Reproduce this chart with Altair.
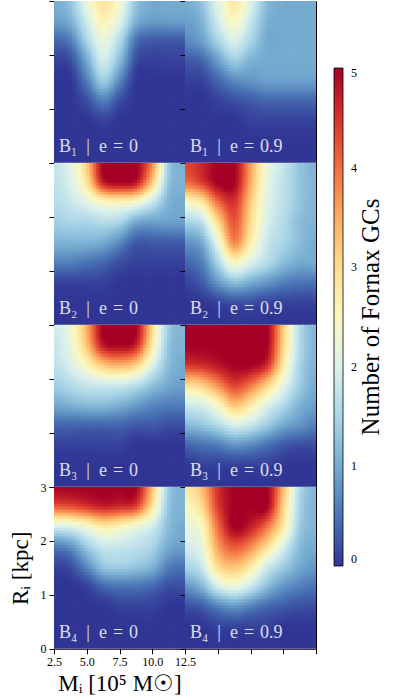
import altair as alt
import numpy as np
import pandas as pd

# Sampled grid: initial mass M_i (10^5 Msun) across, initial radius R_i (kpc) down (top row = 3 kpc)
mass_grid = [2.5, 3.75, 5.0, 6.25, 7.5, 8.75, 10.0, 11.25, 12.5]
radius_grid = [3.0, 2.625, 2.25, 1.875, 1.5, 1.125, 0.75, 0.375, 0.0]

# Number of Fornax GCs surviving, per potential model and orbital eccentricity
n_b1_e0 = [
    [1.0, 1.3, 2.2, 2.9, 2.4, 1.3, 1.0, 1.0, 1.0],
    [0.9, 1.1, 1.9, 2.6, 2.1, 1.1, 0.9, 0.9, 0.9],
    [0.4, 0.6, 1.5, 2.2, 1.6, 0.5, 0.3, 0.3, 0.3],
    [0.1, 0.2, 1.0, 1.9, 1.2, 0.2, 0.1, 0.1, 0.1],
    [0.0, 0.0, 0.6, 1.4, 0.7, 0.0, 0.0, 0.0, 0.0],
    [0.0, 0.0, 0.2, 0.6, 0.2, 0.0, 0.0, 0.0, 0.0],
    [0.0, 0.0, 0.0, 0.1, 0.0, 0.0, 0.0, 0.0, 0.0],
    [0.0, 0.0, 0.0, 0.0, 0.0, 0.0, 0.0, 0.0, 0.0],
    [0.0, 0.0, 0.0, 0.0, 0.0, 0.0, 0.0, 0.0, 0.0],
]
n_b1_e09 = [
    [1.0, 1.3, 2.1, 2.8, 2.1, 1.2, 1.0, 1.0, 1.0],
    [0.9, 1.1, 1.9, 2.5, 1.8, 1.1, 1.0, 1.0, 1.0],
    [0.7, 0.9, 1.5, 2.0, 1.5, 1.0, 1.0, 1.0, 1.0],
    [0.3, 0.4, 0.9, 1.4, 1.1, 1.0, 1.0, 1.0, 1.0],
    [0.1, 0.1, 0.4, 0.7, 0.8, 0.9, 0.9, 0.9, 0.9],
    [0.0, 0.0, 0.1, 0.2, 0.3, 0.4, 0.4, 0.4, 0.4],
    [0.0, 0.0, 0.0, 0.0, 0.1, 0.1, 0.1, 0.1, 0.1],
    [0.0, 0.0, 0.0, 0.0, 0.0, 0.0, 0.0, 0.0, 0.0],
    [0.0, 0.0, 0.0, 0.0, 0.0, 0.0, 0.0, 0.0, 0.0],
]
n_b2_e0 = [
    [1.8, 2.1, 3.2, 5.0, 5.0, 5.0, 3.8, 1.4, 1.1],
    [1.7, 2.0, 2.9, 4.7, 5.0, 4.8, 3.2, 1.3, 1.1],
    [1.6, 1.8, 2.1, 2.5, 2.6, 2.4, 1.8, 1.1, 1.0],
    [1.4, 1.5, 1.5, 1.6, 1.5, 1.0, 0.9, 0.9, 0.9],
    [1.1, 1.1, 1.1, 1.0, 0.7, 0.3, 0.3, 0.3, 0.3],
    [0.6, 0.6, 0.5, 0.4, 0.2, 0.1, 0.1, 0.1, 0.1],
    [0.1, 0.1, 0.1, 0.1, 0.0, 0.0, 0.0, 0.0, 0.0],
    [0.0, 0.0, 0.0, 0.0, 0.0, 0.0, 0.0, 0.0, 0.0],
    [0.0, 0.0, 0.0, 0.0, 0.0, 0.0, 0.0, 0.0, 0.0],
]
n_b2_e09 = [
    [4.3, 4.6, 5.0, 5.0, 3.6, 2.3, 1.8, 1.3, 1.1],
    [4.0, 4.4, 5.0, 5.0, 3.5, 2.2, 1.7, 1.3, 1.1],
    [2.5, 2.8, 4.0, 4.5, 3.2, 2.1, 1.7, 1.3, 1.1],
    [1.5, 1.7, 3.0, 4.2, 3.0, 2.0, 1.6, 1.2, 1.1],
    [0.8, 1.0, 2.2, 3.8, 2.7, 1.8, 1.5, 1.2, 1.0],
    [0.4, 0.6, 1.5, 2.5, 2.0, 1.6, 1.2, 1.0, 1.0],
    [0.1, 0.3, 0.8, 1.2, 1.0, 0.8, 0.6, 0.5, 0.5],
    [0.0, 0.0, 0.1, 0.2, 0.2, 0.1, 0.1, 0.1, 0.1],
    [0.0, 0.0, 0.0, 0.0, 0.0, 0.0, 0.0, 0.0, 0.0],
]
n_b3_e0 = [
    [1.9, 2.3, 3.5, 5.0, 5.0, 5.0, 3.0, 1.4, 1.1],
    [1.8, 2.2, 3.3, 4.8, 5.0, 4.7, 2.8, 1.3, 1.1],
    [1.7, 2.0, 2.6, 3.3, 3.5, 3.2, 2.1, 1.2, 1.0],
    [1.4, 1.6, 1.8, 1.9, 1.9, 1.7, 1.3, 1.0, 0.9],
    [1.0, 1.1, 1.2, 1.2, 1.1, 0.9, 0.7, 0.6, 0.6],
    [0.4, 0.4, 0.4, 0.4, 0.4, 0.3, 0.3, 0.2, 0.2],
    [0.1, 0.1, 0.1, 0.1, 0.1, 0.0, 0.0, 0.0, 0.0],
    [0.0, 0.0, 0.0, 0.0, 0.0, 0.0, 0.0, 0.0, 0.0],
    [0.0, 0.0, 0.0, 0.0, 0.0, 0.0, 0.0, 0.0, 0.0],
]
n_b3_e09 = [
    [5.0, 5.0, 5.0, 5.0, 5.0, 5.0, 3.2, 1.6, 1.1],
    [5.0, 5.0, 5.0, 5.0, 5.0, 5.0, 3.1, 1.6, 1.1],
    [4.5, 4.6, 4.8, 5.0, 5.0, 4.6, 2.8, 1.5, 1.1],
    [3.0, 3.2, 3.8, 4.4, 4.0, 3.2, 2.2, 1.4, 1.0],
    [1.9, 2.0, 2.5, 3.3, 2.8, 2.1, 1.6, 1.1, 0.9],
    [1.2, 1.3, 1.6, 2.0, 1.8, 1.4, 1.0, 0.8, 0.6],
    [0.4, 0.5, 0.6, 0.8, 0.7, 0.5, 0.3, 0.2, 0.2],
    [0.0, 0.1, 0.1, 0.1, 0.1, 0.1, 0.0, 0.0, 0.0],
    [0.0, 0.0, 0.0, 0.0, 0.0, 0.0, 0.0, 0.0, 0.0],
]
n_b4_e0 = [
    [5.0, 5.0, 5.0, 5.0, 5.0, 5.0, 3.3, 1.4, 1.1],
    [4.2, 4.3, 4.5, 4.7, 4.6, 4.4, 2.9, 1.3, 1.1],
    [2.0, 2.1, 2.4, 2.8, 2.6, 2.3, 1.9, 1.2, 1.0],
    [0.6, 0.8, 1.4, 1.8, 1.8, 1.7, 1.5, 1.0, 0.9],
    [0.1, 0.2, 0.7, 1.3, 1.4, 1.3, 1.1, 0.6, 0.5],
    [0.0, 0.0, 0.1, 0.4, 0.5, 0.5, 0.4, 0.2, 0.2],
    [0.0, 0.0, 0.0, 0.0, 0.1, 0.1, 0.1, 0.0, 0.0],
    [0.0, 0.0, 0.0, 0.0, 0.0, 0.0, 0.0, 0.0, 0.0],
    [0.0, 0.0, 0.0, 0.0, 0.0, 0.0, 0.0, 0.0, 0.0],
]
n_b4_e09 = [
    [2.8, 3.3, 4.5, 5.0, 5.0, 5.0, 3.4, 1.6, 1.1],
    [2.5, 3.0, 4.4, 5.0, 5.0, 5.0, 3.1, 1.5, 1.1],
    [2.2, 2.5, 4.0, 5.0, 4.7, 4.0, 2.8, 1.4, 1.1],
    [1.9, 2.2, 3.6, 4.2, 3.8, 3.0, 2.0, 1.2, 1.0],
    [1.5, 1.8, 3.0, 3.3, 2.8, 1.9, 1.4, 1.0, 0.8],
    [0.8, 1.1, 1.9, 2.2, 1.8, 1.2, 0.8, 0.6, 0.5],
    [0.2, 0.3, 0.6, 0.8, 0.6, 0.4, 0.3, 0.2, 0.2],
    [0.0, 0.0, 0.1, 0.1, 0.1, 0.1, 0.0, 0.0, 0.0],
    [0.0, 0.0, 0.0, 0.0, 0.0, 0.0, 0.0, 0.0, 0.0],
]

# en spaces around the bar, three-per-em spaces around the equals sign
panel_labels = [
    ["B\u2081\u2002|\u2002e\u2004=\u20040", "B\u2081\u2002|\u2002e\u2004=\u20040.9"],
    ["B\u2082\u2002|\u2002e\u2004=\u20040", "B\u2082\u2002|\u2002e\u2004=\u20040.9"],
    ["B\u2083\u2002|\u2002e\u2004=\u20040", "B\u2083\u2002|\u2002e\u2004=\u20040.9"],
    ["B\u2084\u2002|\u2002e\u2004=\u20040", "B\u2084\u2002|\u2002e\u2004=\u20040.9"],
]
panel_grids = [
    [n_b1_e0, n_b1_e09],
    [n_b2_e0, n_b2_e09],
    [n_b3_e0, n_b3_e09],
    [n_b4_e0, n_b4_e09],
]
mass_ticks = [2.5, 5.0, 7.5, 10.0, 12.5]
radius_ticks = [0, 1, 2, 3]
count_ticks = [0, 1, 2, 3, 4, 5]

FONT = "Liberation Serif"
PANEL_W, PANEL_H = 131, 161.75
NX, NY = 44, 54  # display cells per panel


def cubic_kernel(d, a=-0.5):
    d = np.abs(d)
    near = (a + 2) * d**3 - (a + 3) * d**2 + 1
    far = a * d**3 - 5 * a * d**2 + 8 * a * d - 4 * a
    return np.where(d <= 1, near, np.where(d < 2, far, 0.0))


def resample_matrix(n_src, n_dst):
    # bicubic display resampling (like imshow's interpolation="bicubic")
    pos = (np.arange(n_dst) + 0.5) / n_dst * (n_src - 1)
    base = np.floor(pos).astype(int)
    m = np.zeros((n_dst, n_src))
    for k in range(-1, 3):
        idx = base + k
        w = cubic_kernel(pos - idx)
        idx = np.clip(idx, 0, n_src - 1)
        np.add.at(m, (np.arange(n_dst), idx), w)
    return m


RY = resample_matrix(len(radius_grid), NY)
RX = resample_matrix(len(mass_grid), NX)
m_edges = np.linspace(mass_grid[0], mass_grid[-1], NX + 1)
r_edges = np.linspace(radius_grid[0], radius_grid[-1], NY + 1)
# each cell is drawn over a pixel larger than its pitch so neighbours leave no seam
M_OVER = 1.3 * (mass_grid[-1] - mass_grid[0]) / PANEL_W
R_OVER = 1.3 * (radius_grid[0] - radius_grid[-1]) / PANEL_H


def cells(grid):
    fine = np.clip(RY @ np.array(grid) @ RX.T, 0, 5)
    jj, ii = np.meshgrid(np.arange(NX), np.arange(NY))
    return pd.DataFrame({
        "m0": m_edges[jj.ravel()].round(4),
        "m1": (m_edges[jj.ravel() + 1] + M_OVER).round(4),
        "r0": (r_edges[ii.ravel()] + R_OVER).round(4),
        "r1": r_edges[ii.ravel() + 1].round(4),
        "n": fine.ravel().round(3),
    })


color_scale = alt.Scale(domain=[0, 5], scheme="redyellowblue", reverse=True, clamp=True)
colorbar = alt.Legend(
    type="gradient", orient="none", legendX=280, legendY=67, direction="vertical",
    gradientLength=498, gradientThickness=9, values=count_ticks, format="d",
    title=None, labelFont=FONT, labelFontSize=12, labelColor="black",
    labelOffset=8, gradientStrokeColor="black", gradientStrokeWidth=0.8,
    padding=0,
)


def panel(row, col):
    bottom = row == 3
    left = col == 0
    if bottom:
        x_axis = alt.Axis(
            values=mass_ticks, labels=left, format=".1f", labelFlush=False, labelOverlap=False,
            title="M\u1d62 [10\u2075 M\u2609]" if left else None,
        )
    else:
        x_axis = None
    y_axis = alt.Axis(
        values=radius_ticks, labels=(left and bottom), format="d", labelFlush=False,
        labelOverlap=False, title="R\u1d62 [kpc]" if (left and bottom) else None,
    )
    heat = alt.Chart(cells(panel_grids[row][col])).mark_rect(
        clip=True, opacity=1, fillOpacity=1, strokeWidth=0,
    ).encode(
        x=alt.X("m0:Q", scale=alt.Scale(domain=[2.5, 12.5], nice=False, zero=False), axis=x_axis),
        x2="m1",
        y=alt.Y("r0:Q", scale=alt.Scale(domain=[0, 3], nice=False, zero=False), axis=y_axis),
        y2="r1",
        color=alt.Color("n:Q", scale=color_scale, legend=colorbar),
    )
    label = alt.Chart(pd.DataFrame({"label": [panel_labels[row][col]]})).mark_text(
        font=FONT, fontSize=18, color="white", opacity=0.82, align="left", baseline="alphabetic",
    ).encode(text="label:N", x=alt.value(5), y=alt.value(151))
    layers = [heat, label]
    if row == 0 and col == 1:
        cb_title = alt.Chart(pd.DataFrame({"t": ["Number of Fornax GCs"]})).mark_text(
            font=FONT, fontSize=25, color="black", angle=270, align="center", baseline="middle",
        ).encode(text="t:N", x=alt.value(186), y=alt.value(316))
        layers.append(cb_title)
    return alt.layer(*layers).properties(width=PANEL_W, height=PANEL_H)


panels = [panel(r, c) for r in range(4) for c in range(2)]
chart = alt.concat(*panels, columns=2, spacing=0, bounds="flush").properties(
    padding={"left": 8, "top": 0, "right": 0, "bottom": 0}
).configure_view(
    stroke="black", strokeWidth=1
).configure_axis(
    domain=False, tickColor="black", tickSize=5, tickWidth=1, grid=False,
    labelFont=FONT, labelFontSize=12, labelColor="black", labelPadding=3,
    titleFont=FONT, titleFontSize=23, titleFontWeight="normal", titleColor="black",
).configure_axisY(titlePadding=8).configure_axisX(titlePadding=5)

chart.save("out.html", embed_options={"renderer": "svg", "actions": False})
